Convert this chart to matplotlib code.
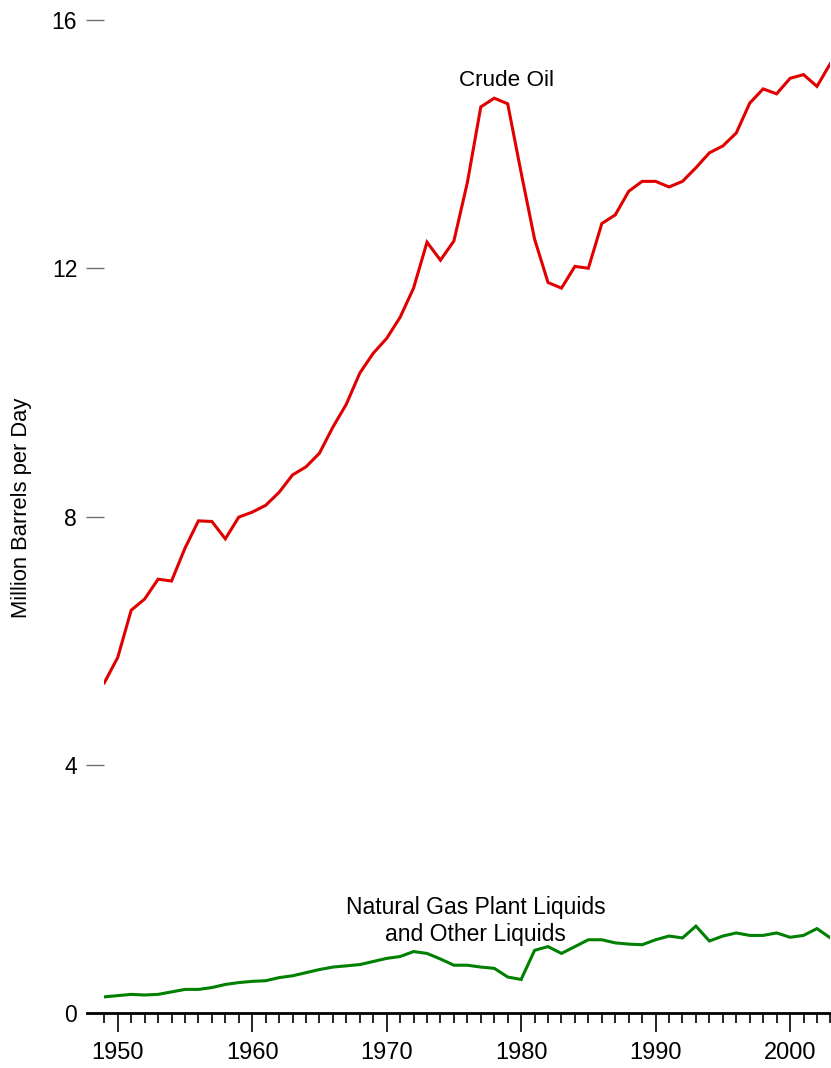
import numpy as np
import matplotlib
matplotlib.use("Agg")
import matplotlib.pyplot as plt
from matplotlib.ticker import MultipleLocator

plt.rcParams['font.family'] = ['Liberation Sans', 'DejaVu Sans']

years = np.arange(1949, 2004)

# million barrels per day
crude_oil = [5.32, 5.73, 6.49, 6.67, 6.99, 6.96, 7.49, 7.93, 7.92, 7.64,
             7.99, 8.07, 8.18, 8.39, 8.67, 8.80, 9.02, 9.44, 9.81, 10.31,
             10.63, 10.87, 11.21, 11.68, 12.42, 12.13, 12.44, 13.38, 14.60, 14.74,
             14.65, 13.54, 12.47, 11.77, 11.68, 12.03, 12.00, 12.72, 12.86, 13.24,
             13.40, 13.40, 13.31, 13.40, 13.62, 13.86, 13.97, 14.18, 14.66, 14.89,
             14.81, 15.06, 15.12, 14.93, 15.30]

ngpl = [0.26, 0.28, 0.30, 0.29, 0.30, 0.34, 0.38, 0.38, 0.41, 0.46,
        0.49, 0.51, 0.52, 0.57, 0.60, 0.65, 0.70, 0.74, 0.76, 0.78,
        0.83, 0.88, 0.91, 0.99, 0.96, 0.87, 0.77, 0.77, 0.74, 0.72,
        0.58, 0.54, 1.01, 1.07, 0.96, 1.07, 1.18, 1.18, 1.13, 1.11,
        1.10, 1.18, 1.24, 1.21, 1.40, 1.16, 1.24, 1.29, 1.25, 1.25,
        1.29, 1.22, 1.25, 1.36, 1.21]

yticks = [0, 4, 8, 12, 16]

W, H = 831, 1068
fig = plt.figure(figsize=(W / 100, H / 100), dpi=100)
ax = fig.add_axes([104.3 / W, 1 - 1013 / H, (830.4 - 104.3) / W, (1013 - 20) / H])

ax.plot(years, crude_oil, color='#e00000', lw=2.2, solid_joinstyle='miter')
ax.plot(years, ngpl, color='#008000', lw=2.2, solid_joinstyle='miter')

ax.set_xlim(1949, 2003)
ax.set_ylim(0, 16)

for s in ['top', 'right', 'left']:
    ax.spines[s].set_visible(False)
ax.spines['bottom'].set_linewidth(2)
ax.spines['bottom'].set_bounds(1947.7, 2003)

ax.set_yticks(yticks)
ax.set_yticklabels([str(v) for v in yticks])
ax.tick_params(axis='y', direction='out', length=13, width=1, color='#707070',
               pad=6.5, labelsize=16.5)
ax.xaxis.set_major_locator(MultipleLocator(10))
ax.xaxis.set_minor_locator(MultipleLocator(1))
ax.tick_params(axis='x', which='major', direction='out', length=14, width=1.2,
               color='black', pad=7, labelsize=17)
ax.tick_params(axis='x', which='minor', direction='out', length=7, width=1.2,
               color='black')

ax.text(1978.94, 15.02, 'Crude Oil', ha='center', va='center', fontsize=16.2)
ax.text(1976.6, 1.48, 'Natural Gas Plant Liquids\nand Other Liquids',
        ha='center', va='center', multialignment='center', fontsize=16.5,
        linespacing=1.2)

fig.text(22 / W, 1 - 508 / H, 'Million Barrels per Day', rotation=90,
         ha='center', va='center', fontsize=15.8)

fig.savefig('out.png', dpi=100)
